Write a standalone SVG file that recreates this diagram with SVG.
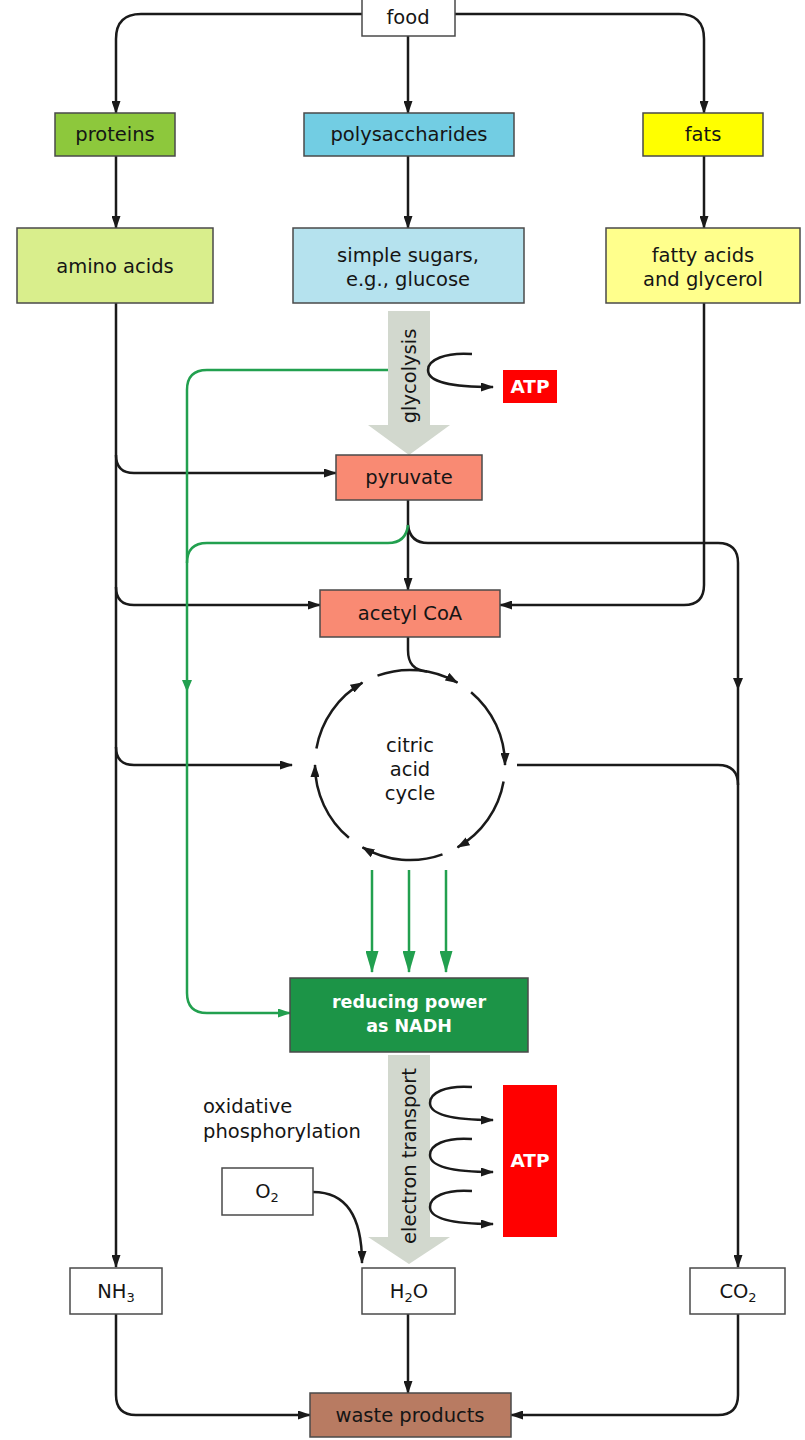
<svg xmlns="http://www.w3.org/2000/svg" width="805" height="1440" viewBox="0 0 805 1440">
<style>
.box{stroke:#4a4a4a;stroke-width:1.5}
.t{font-family:"DejaVu Sans",sans-serif;font-size:19.5px;fill:#151515;text-anchor:middle}
.tw{font-family:"DejaVu Sans",sans-serif;font-weight:bold;fill:#fff;text-anchor:middle}
.ln{fill:none;stroke:#1a1a1a;stroke-width:2.5}
.gl{fill:none;stroke:#22a04f;stroke-width:2.5}
.sub{font-size:13px}
</style>
<defs>
<marker id="ah" viewBox="0 0 13 9" refX="12" refY="4.5" markerWidth="13" markerHeight="9" markerUnits="userSpaceOnUse" orient="auto"><path d="M0,0 L13,4.5 L0,9 z" fill="#1a1a1a"/></marker>
<marker id="ahg" viewBox="0 0 13 9" refX="12" refY="4.5" markerWidth="13" markerHeight="9" markerUnits="userSpaceOnUse" orient="auto"><path d="M0,0 L13,4.5 L0,9 z" fill="#22a04f"/></marker>
<marker id="ahG" viewBox="0 0 22 13" refX="21" refY="6.5" markerWidth="22" markerHeight="13" markerUnits="userSpaceOnUse" orient="auto"><path d="M0,0 L22,6.5 L0,13 z" fill="#22a04f"/></marker>
</defs>
<rect width="805" height="1440" fill="#fff"/>

<g id="big-arrows">
<polygon points="388,311 430,311 430,425 450,425 409,455 368,425 388,425" fill="#d2d8ce"/>
<polygon points="388,1055 430,1055 430,1237 450,1237 409,1264 368,1237 388,1237" fill="#d2d8ce"/>
<text class="t" transform="translate(416,376) rotate(-90)" font-size="20">glycolysis</text>
<text class="t" transform="translate(416,1156) rotate(-90)" font-size="20">electron transport</text>
</g>

<g id="connectors">
<path class="ln" d="M362,14 H141 Q116,14 116,39 V113" marker-end="url(#ah)"/>
<path class="ln" d="M455,14 H679 Q704,14 704,39 V113" marker-end="url(#ah)"/>
<path class="ln" d="M408,36 V113" marker-end="url(#ah)"/>
<path class="ln" d="M116,156 V228" marker-end="url(#ah)"/>
<path class="ln" d="M408,156 V228" marker-end="url(#ah)"/>
<path class="ln" d="M704,156 V228" marker-end="url(#ah)"/>
<path class="ln" d="M116,303 V1267" marker-end="url(#ah)"/>
<path class="ln" d="M116,455 Q116,473 134,473 H336" marker-end="url(#ah)"/>
<path class="ln" d="M116,587 Q116,605 134,605 H320" marker-end="url(#ah)"/>
<path class="ln" d="M116,747 Q116,765 134,765 H292" marker-end="url(#ah)"/>
<path class="ln" d="M408,500 V590" marker-end="url(#ah)"/>
<path class="ln" d="M408,525 Q410,543 428,543 H718 Q738,543 738,563 V1267" marker-end="url(#ah)"/>
<path class="ln" d="M704,303 V585 Q704,605 684,605 H500" marker-end="url(#ah)"/>
<path class="ln" d="M408,637 V650 C408,664 414,670 427,671.5"/>
<path class="ln" d="M517,765 H718 Q738,765 738,785"/>
<polygon points="733,678 743,678 738,690" fill="#1a1a1a"/>
<path class="ln" d="M116,1314 V1395 Q116,1415 136,1415 H310" marker-end="url(#ah)"/>
<path class="ln" d="M408,1314 V1393" marker-end="url(#ah)"/>
<path class="ln" d="M738,1314 V1395 Q738,1415 718,1415 H511" marker-end="url(#ah)"/>
<path class="ln" d="M313,1192 C345,1192 362,1215 362,1263" marker-end="url(#ah)"/>
<path class="ln" d="M472,354 C445,352 428,360 428,370 C428,382 450,387 493,387" marker-end="url(#ah)"/>
<path class="ln" d="M472,1087 C445,1085 430,1093 430,1103 C430,1115 452,1120 493,1120" marker-end="url(#ah)"/>
<path class="ln" d="M472,1139 C445,1137 430,1145 430,1155 C430,1167 452,1172 493,1172" marker-end="url(#ah)"/>
<path class="ln" d="M472,1191 C445,1189 430,1197 430,1207 C430,1219 452,1224 493,1224" marker-end="url(#ah)"/>
<path class="gl" d="M388,370 H207 Q187,370 187,390 V993 Q187,1013 207,1013 H290" marker-end="url(#ahg)"/>
<path class="gl" d="M408,525 Q406,543 388,543 H207 Q187,543 187,563"/>
<polygon points="182,680 192,680 187,692" fill="#22a04f"/>
<path class="gl" d="M372,870 V972" marker-end="url(#ahG)"/>
<path class="gl" d="M409,870 V972" marker-end="url(#ahG)"/>
<path class="gl" d="M446,870 V972" marker-end="url(#ahG)"/>
</g>

<g id="citric-acid-cycle">
<path class="ln" d="M377.5,675.7 A95,95 0 0 1 457.5,682.7" marker-end="url(#ah)"/>
<path class="ln" d="M471.1,692.2 A95,95 0 0 1 505,765" marker-end="url(#ah)"/>
<path class="ln" d="M503.6,781.5 A95,95 0 0 1 457.5,847.3" marker-end="url(#ah)"/>
<path class="ln" d="M442.5,854.3 A95,95 0 0 1 362.5,847.3" marker-end="url(#ah)"/>
<path class="ln" d="M348.9,837.8 A95,95 0 0 1 315,765" marker-end="url(#ah)"/>
<path class="ln" d="M316.4,748.5 A95,95 0 0 1 362.5,682.7" marker-end="url(#ah)"/>
<text class="t" x="410" y="752" fill="#333">citric</text>
<text class="t" x="410" y="776" fill="#333">acid</text>
<text class="t" x="410" y="800" fill="#333">cycle</text>
</g>

<g id="food"><rect class="box" x="362" y="-2" width="93" height="38" fill="#fff"/><text class="t" x="408" y="24">food</text></g>
<g id="proteins"><rect class="box" x="55" y="113" width="120" height="43" fill="#8dc83c"/><text class="t" x="115" y="141">proteins</text></g>
<g id="polysaccharides"><rect class="box" x="304" y="113" width="210" height="43" fill="#72cde3"/><text class="t" x="409" y="141">polysaccharides</text></g>
<g id="fats"><rect class="box" x="643" y="113" width="120" height="43" fill="#ffff00"/><text class="t" x="703" y="141">fats</text></g>
<g id="amino-acids"><rect class="box" x="17" y="228" width="196" height="75" fill="#d9ee8c"/><text class="t" x="115" y="273">amino acids</text></g>
<g id="simple-sugars"><rect class="box" x="293" y="228" width="231" height="75" fill="#b5e2ee"/><text class="t" x="408" y="262">simple sugars,</text><text class="t" x="408" y="286">e.g., glucose</text></g>
<g id="fatty-acids"><rect class="box" x="606" y="228" width="194" height="75" fill="#ffff8c"/><text class="t" x="703" y="262">fatty acids</text><text class="t" x="703" y="286">and glycerol</text></g>
<g id="atp-glycolysis"><rect x="503" y="370" width="54" height="33" fill="#ff0000"/><text class="tw" x="530" y="393" font-size="18.5">ATP</text></g>
<g id="pyruvate"><rect class="box" x="336" y="455" width="146" height="45" fill="#f98a73"/><text class="t" x="409" y="484">pyruvate</text></g>
<g id="acetyl-coa"><rect class="box" x="320" y="590" width="180" height="47" fill="#f98a73"/><text class="t" x="410" y="620">acetyl CoA</text></g>
<g id="nadh"><rect class="box" x="290" y="978" width="238" height="74" fill="#1c9447"/><text class="tw" x="409" y="1008" font-size="17.5">reducing power</text><text class="tw" x="409" y="1032" font-size="17.5">as NADH</text></g>
<g id="oxidative-label"><text class="t" x="203" y="1113" style="text-anchor:start" fill="#333">oxidative</text><text class="t" x="203" y="1138" style="text-anchor:start" fill="#333">phosphorylation</text></g>
<g id="atp-electron"><rect x="503" y="1085" width="54" height="152" fill="#ff0000"/><text class="tw" x="530" y="1167" font-size="18.5">ATP</text></g>
<g id="o2"><rect class="box" x="222" y="1168" width="91" height="47" fill="#fff"/><text class="t" x="267" y="1198">O<tspan class="sub" dy="4">2</tspan></text></g>
<g id="nh3"><rect class="box" x="70" y="1268" width="92" height="46" fill="#fff"/><text class="t" x="116" y="1298">NH<tspan class="sub" dy="4">3</tspan></text></g>
<g id="h2o"><rect class="box" x="362" y="1268" width="93" height="46" fill="#fff"/><text class="t" x="409" y="1298">H<tspan class="sub" dy="4">2</tspan><tspan dy="-4">O</tspan></text></g>
<g id="co2"><rect class="box" x="690" y="1268" width="95" height="46" fill="#fff"/><text class="t" x="738" y="1298">CO<tspan class="sub" dy="4">2</tspan></text></g>
<g id="waste-products"><rect class="box" x="310" y="1393" width="201" height="44" fill="#b87b62"/><text class="t" x="410" y="1422">waste products</text></g>
</svg>
